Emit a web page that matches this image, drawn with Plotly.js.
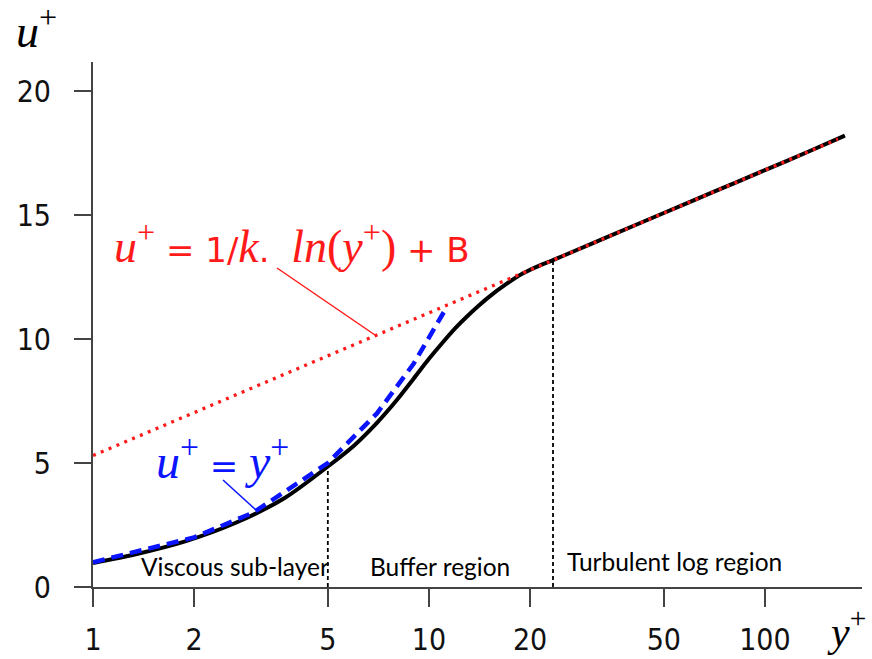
<!DOCTYPE html>
<html>
<head>
<meta charset="utf-8">
<script src="https://cdn.plot.ly/plotly-3.0.1.min.js"></script>
<style>html,body{margin:0;padding:0;background:#fff;}</style>
</head>
<body>
<div id="chart" style="width:872px;height:659px;"></div>
<script>
// Black curve: velocity profile (law of the wall)
const profileYPlus = [1, 1.33, 1.88, 2.65, 3.73, 5, 6, 7, 8, 9, 10, 11, 12, 13, 14, 15, 17, 19, 21.4, 23.4, 27, 35, 50, 70, 100, 135, 173];
const profileUPlus = [0.97, 1.31, 1.84, 2.58, 3.6, 4.86, 5.72, 6.62, 7.52, 8.4, 9.2, 9.87, 10.45, 10.92, 11.32, 11.67, 12.22, 12.64, 12.97, 13.18, 13.54, 14.19, 15.08, 15.92, 16.81, 17.56, 18.2];
// Blue dashed: viscous sub-layer u+ = y+
const linearYPlus = [1, 2, 3, 5, 7, 9, 11.2];
const linearUPlus = [1, 2, 3, 5, 7, 9, 11.2];
// Red dotted: log law
const logYPlus = [1, 2, 5, 10, 20, 50, 100, 165];
const logUPlus = [5.3, 7.03, 9.32, 11.06, 12.79, 15.08, 16.81, 18.06];
// Region boundaries
const boundaryYPlus = [5, 23.4];
const boundaryUPlus = [4.86, 13.18];
// Tick labels
const xTicks = [1, 2, 5, 10, 20, 50, 100];
const yTicks = [0, 5, 10, 15, 20];
const regionLabels = ["Viscous sub-layer", "Buffer region", "Turbulent log region"];

const traces = [
  {x: profileYPlus, y: profileUPlus, mode: 'lines', line: {color: '#000', width: 4, shape: 'spline', smoothing: 0.8}, hoverinfo: 'skip'},
  {x: linearYPlus, y: linearUPlus, mode: 'lines', line: {color: '#0a14ff', width: 4.5, dash: '12px,7px'}, hoverinfo: 'skip'},
  {x: logYPlus, y: logUPlus, mode: 'lines', line: {color: '#ff1a1a', width: 3.3, dash: '3px,5.5px'}, hoverinfo: 'skip'}
];
boundaryYPlus.forEach((bx, i) => {
  traces.push({x: [bx, bx], y: [0, boundaryUPlus[i]], mode: 'lines', line: {color: '#000', width: 1.8, dash: '4px,3px'}, hoverinfo: 'skip'});
});

const L = 93, R = 862, T = 62, B = 587;
const px = v => (v - L) / (R - L);
const py = v => (B - v) / (B - T);

const serif = "Liberation Serif";
const sansSpan = s => '<span style="font-family:\'DejaVu Sans\';font-size:34px">' + s + '</span>';
const eqRed = '<i>u</i><sup>+</sup>' + sansSpan(' = 1/') + '<i>k</i>' + sansSpan('.  ') + '<i>ln</i>(<i>y</i><sup>+</sup>)' + sansSpan(' + B');
const eqBlue = '<i>u</i><sup>+</sup>' + sansSpan(' = ') + '<i>y</i><sup>+</sup>';

const annotations = [
  {text: '<i>u</i><sup>+</sup>', x: px(36), y: py(28), font: {family: serif, size: 46, color: '#000'}},
  {text: '<i>y</i><sup>+</sup>', x: px(846), y: py(628), font: {family: serif, size: 42, color: '#000'}},
  {text: eqRed, x: px(292), y: py(243), font: {family: serif, size: 46, color: '#ff1a1a'}},
  {text: eqBlue, x: px(222), y: py(458), font: {family: serif, size: 48, color: '#0a14ff'}},
  {text: regionLabels[0], x: px(235), y: py(566), font: {family: 'Lato', size: 24.5, color: '#000'}},
  {text: regionLabels[1], x: px(440), y: py(566), font: {family: 'Lato', size: 24.5, color: '#000'}},
  {text: regionLabels[2], x: px(674), y: py(561), font: {family: 'Lato', size: 24.5, color: '#000'}}
].map(a => Object.assign({xref: 'paper', yref: 'paper', showarrow: false, xanchor: 'center', yanchor: 'middle'}, a));

const shapes = [
  {type: 'line', xref: 'paper', yref: 'paper', x0: px(277), y0: py(268), x1: px(375), y1: py(335), line: {color: '#ff1a1a', width: 1.5}},
  {type: 'line', xref: 'paper', yref: 'paper', x0: px(223), y0: py(480), x1: px(256), y1: py(510), line: {color: '#0a14ff', width: 1.5}},
  {type: 'line', xref: 'paper', yref: 'paper', x0: px(75), y0: 0, x1: 0, y1: 0, line: {color: '#444', width: 2}}
];

const layout = {
  width: 872, height: 659, autosize: false,
  margin: {l: L, r: 872 - R, t: T, b: 659 - B, pad: 0},
  paper_bgcolor: '#fff', plot_bgcolor: '#fff',
  showlegend: false,
  xaxis: {
    type: 'log', range: [0, Math.log10(194.5)],
    tickvals: xTicks, ticktext: xTicks.map(String),
    ticks: 'outside', ticklen: 18, tickwidth: 2, tickcolor: '#444',
    showline: true, linecolor: '#444', linewidth: 2,
    showgrid: false, zeroline: false,
    tickfont: {family: 'DejaVu Sans Condensed, DejaVu Sans', size: 30, color: '#111'},
    ticklabelstandoff: 7
  },
  yaxis: {
    range: [0, 21.17],
    tickvals: yTicks, ticktext: yTicks.map(String),
    ticks: 'outside', ticklen: 17, tickwidth: 2, tickcolor: '#444',
    showline: true, linecolor: '#444', linewidth: 2,
    showgrid: false, zeroline: false,
    tickfont: {family: 'DejaVu Sans Condensed, DejaVu Sans', size: 30, color: '#111'},
    ticklabelstandoff: 17
  },
  annotations: annotations,
  shapes: shapes
};

Plotly.newPlot('chart', traces, layout, {displayModeBar: false, staticPlot: true});
</script>
</body>
</html>
